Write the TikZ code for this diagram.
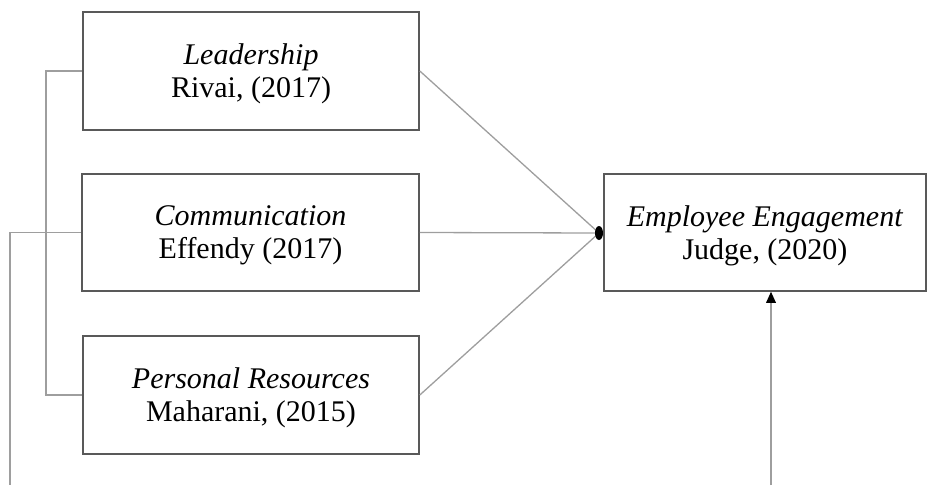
\documentclass[tikz,border=0pt]{standalone}
\usepackage{fontspec}
\setmainfont{Liberation Serif}
\usetikzlibrary{arrows.meta}

\begin{document}
\begin{tikzpicture}[
       x=1pt,y=-1pt,
       var/.style={
         draw=black!65,
         line width=1.6pt,
         rectangle,
         align=center,
         font=\fontsize{30}{33}\selectfont,
         inner sep=0pt,
         text depth=-10pt
       },
       link/.style={
         draw=black!38,
         line width=1.3pt
       }
     ]

       \useasboundingbox (0,0) rectangle (928,485);

       \node (lead) at (251,71) [var,minimum width=336,minimum height=118]{\textit{Leadership}\\Rivai, (2017)};
       \node (comm) at (250.5,232.5) [var,minimum width=337,minimum height=117]{\textit{Communication}\\Effendy (2017)};
       \node (pers) at (251,395) [var,minimum width=336,minimum height=118]{\textit{Personal Resources}\\Maharani, (2015)};
       \node (emp) at (765,232.5) [var,minimum width=322,minimum height=117]{\textit{Employee Engagement}\\Judge, (2020)};

       \coordinate (join) at (599,233);
       \coordinate (brk) at (46,71);
       \coordinate (low) at (10,485);
       \coordinate (up) at (771,485);

       \draw[link] (lead.east) -- (join);
       \draw[link] (comm.east) -- (join);
       \draw[link] (pers.east) -- (join);
       \fill (join) ellipse [x radius=4,y radius=7];

       \draw[link] (lead.west) -- (brk) |- (pers.west);
       \draw[link] (comm.west) -| (low);
       \draw[link] (up) -- ([yshift=-9]up |- emp.south);
       \fill (up |- emp.south) -- ++(-5,11) -- ++(10,0) -- cycle;

\end{tikzpicture}
\end{document}
